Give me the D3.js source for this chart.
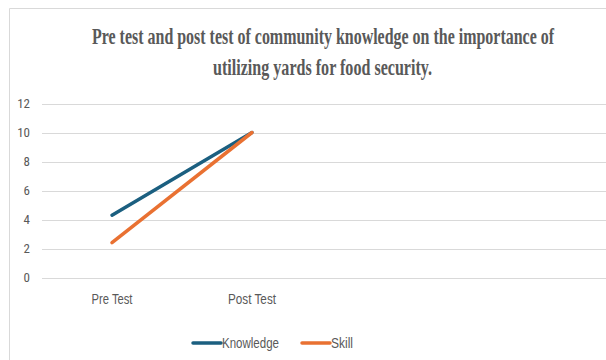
<!DOCTYPE html>
<html><head><meta charset="utf-8">
<script src="https://cdn.jsdelivr.net/npm/d3@7"></script>
<style>body{margin:0;background:#fff}svg{display:block}</style>
</head><body>
<script>
const categories = ["Pre Test", "Post Test", "", ""];
const knowledge = [4.3, 10];
const skill = [2.4, 10];
const yTicks = [0, 2, 4, 6, 8, 10, 12];
const titleLines = ["Pre test and post test of community knowledge on the importance of", "utilizing yards for food security."];
const seriesNames = ["Knowledge", "Skill"];

const W = 606, H = 360;
const svg = d3.select("body").append("svg").attr("width", W).attr("height", H);

// chart border
svg.append("path").attr("d", "M9.5,360 V8.5 H606").attr("fill", "none").attr("stroke", "#d9d9d9").attr("stroke-width", 1);

// title
const titleCfg = [{x: 92, y: 44, w: 462}, {x: 213, y: 74.5, w: 219}];
svg.selectAll("text.title").data(titleLines).join("text")
  .attr("class", "title")
  .attr("x", (d, i) => titleCfg[i].x).attr("y", (d, i) => titleCfg[i].y)
  .attr("textLength", (d, i) => titleCfg[i].w).attr("lengthAdjust", "spacingAndGlyphs")
  .attr("font-family", "Liberation Serif, Times New Roman, serif")
  .attr("font-weight", "bold").attr("font-size", 24).attr("fill", "#595959")
  .text(d => d);

const x = d3.scaleBand().domain(categories.map((c, i) => i)).range([42, 602]);
const y = d3.scaleLinear().domain([0, 12]).range([277.5, 103.5]);

// grid
svg.append("g").selectAll("line").data(yTicks).join("line")
  .attr("x1", 42).attr("x2", 606)
  .attr("y1", d => Math.round(y(d)) + 0.5).attr("y2", d => Math.round(y(d)) + 0.5)
  .attr("stroke", "#d9d9d9").attr("stroke-width", 1);

// y labels
svg.append("g").selectAll("text").data(yTicks).join("text")
  .attr("x", 30).attr("y", d => y(d) + 4.5).attr("text-anchor", "end")
  .attr("font-family", "Liberation Sans Narrow, Roboto Condensed, Liberation Sans, sans-serif")
  .attr("font-size", 13).attr("fill", "#595959")
  .text(d => d);

// x labels
const xLabW = {"Pre Test": 41, "Post Test": 48};
svg.append("g").selectAll("text").data(categories.map((c, i) => ({c, i})).filter(d => d.c)).join("text")
  .attr("x", d => x(d.i) + x.bandwidth() / 2 - xLabW[d.c] / 2).attr("y", 304)
  .attr("textLength", d => xLabW[d.c]).attr("lengthAdjust", "spacingAndGlyphs")
  .attr("font-family", "Liberation Sans, sans-serif")
  .attr("font-size", 14).attr("fill", "#595959")
  .text(d => d.c);

const colors = ["#1b5f80", "#e97132"];
const line = d3.line().x((d, i) => x(i) + x.bandwidth() / 2).y(d => y(d));
[knowledge, skill].forEach((s, k) => {
  svg.append("path").datum(s).attr("d", line).attr("fill", "none")
    .attr("stroke", colors[k]).attr("stroke-width", 3.5).attr("stroke-linecap", "round");
});

// legend
const legCfg = [{x: 193, tw: 57}, {x: 302, tw: 22}];
seriesNames.forEach((n, k) => {
  const c = legCfg[k];
  svg.append("line").attr("x1", c.x).attr("x2", c.x + 28).attr("y1", 343).attr("y2", 343)
    .attr("stroke", colors[k]).attr("stroke-width", 3.5).attr("stroke-linecap", "round");
  svg.append("text").attr("x", c.x + 29).attr("y", 347.5)
    .attr("textLength", c.tw).attr("lengthAdjust", "spacingAndGlyphs")
    .attr("font-family", "Liberation Sans, sans-serif").attr("font-size", 14).attr("fill", "#595959")
    .text(n);
});
</script>
</body></html>
